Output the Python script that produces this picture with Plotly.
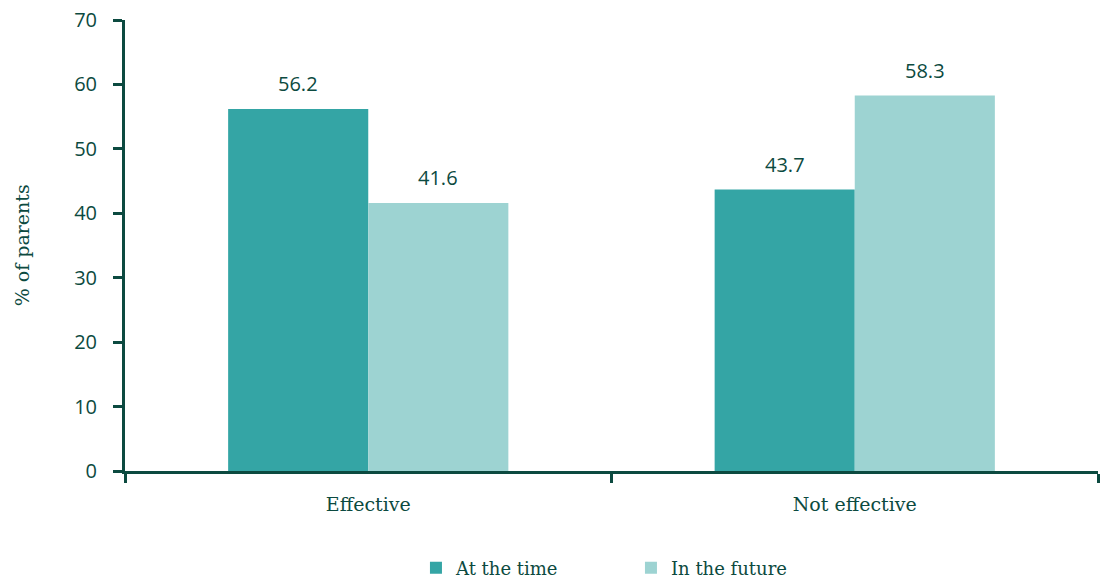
import plotly.graph_objects as go

categories = ["Effective", "Not effective"]
at_the_time = [56.2, 43.7]
in_the_future = [41.6, 58.3]
series_names = ["At the time", "In the future"]
y_ticks = [0, 10, 20, 30, 40, 50, 60, 70]
y_title = "% of parents"

DARK = "#34a5a5"
LIGHT = "#9dd3d2"
INK = "#0c4a40"
SANS = "Open Sans"
SERIF = "DejaVu Serif"

fig = go.Figure()
fig.add_trace(go.Bar(name=series_names[0], x=categories, y=at_the_time,
                     marker=dict(color=DARK, line=dict(width=0))))
fig.add_trace(go.Bar(name=series_names[1], x=categories, y=in_the_future,
                     marker=dict(color=LIGHT, line=dict(width=0))))

# value labels above each bar
half = (1 - 0.424) / 4
for i, (a, b) in enumerate(zip(at_the_time, in_the_future)):
    for off, v in ((-half, a), (half, b)):
        fig.add_annotation(x=i + off, y=v, xref="x", yref="y", text=f"{v:.1f}",
                           showarrow=False, yanchor="middle", yshift=25,
                           font=dict(family=SANS, size=20, color=INK))

# rotated y-axis title
fig.add_annotation(x=-0.106, y=0.5, xref="paper", yref="paper", text=y_title,
                   showarrow=False, textangle=-90, xanchor="center", yanchor="middle",
                   font=dict(family=SERIF, size=19, color=INK))

fig.update_layout(
    width=1101, height=579,
    margin=dict(l=125, r=3, t=20, b=108, autoexpand=False),
    paper_bgcolor="white", plot_bgcolor="white",
    barmode="group", bargap=0.424, bargroupgap=0,
    showlegend=True,
    legend=dict(orientation="h", x=0.52, xanchor="center", xref="paper",
                y=-0.215, yanchor="middle", yref="paper",
                font=dict(family=SERIF, size=18, color=INK),
                entrywidth=170, tracegroupgap=0),
    xaxis=dict(showline=True, linecolor=INK, linewidth=3,
               ticks="outside", ticklen=9, tickwidth=2.5, tickcolor=INK,
               tickson="boundaries", showgrid=False, automargin=False,
               ticklabelstandoff=14,
               tickfont=dict(family=SERIF, size=19, color=INK)),
    yaxis=dict(range=[0, 70], tickvals=y_ticks, showline=True, linecolor=INK, linewidth=3,
               ticks="outside", ticklen=9, tickwidth=2.5, tickcolor=INK,
               showgrid=False, zeroline=False, automargin=False,
               ticklabelstandoff=12,
               tickfont=dict(family=SANS, size=20, color=INK)),
)

fig.write_html("out.html")
